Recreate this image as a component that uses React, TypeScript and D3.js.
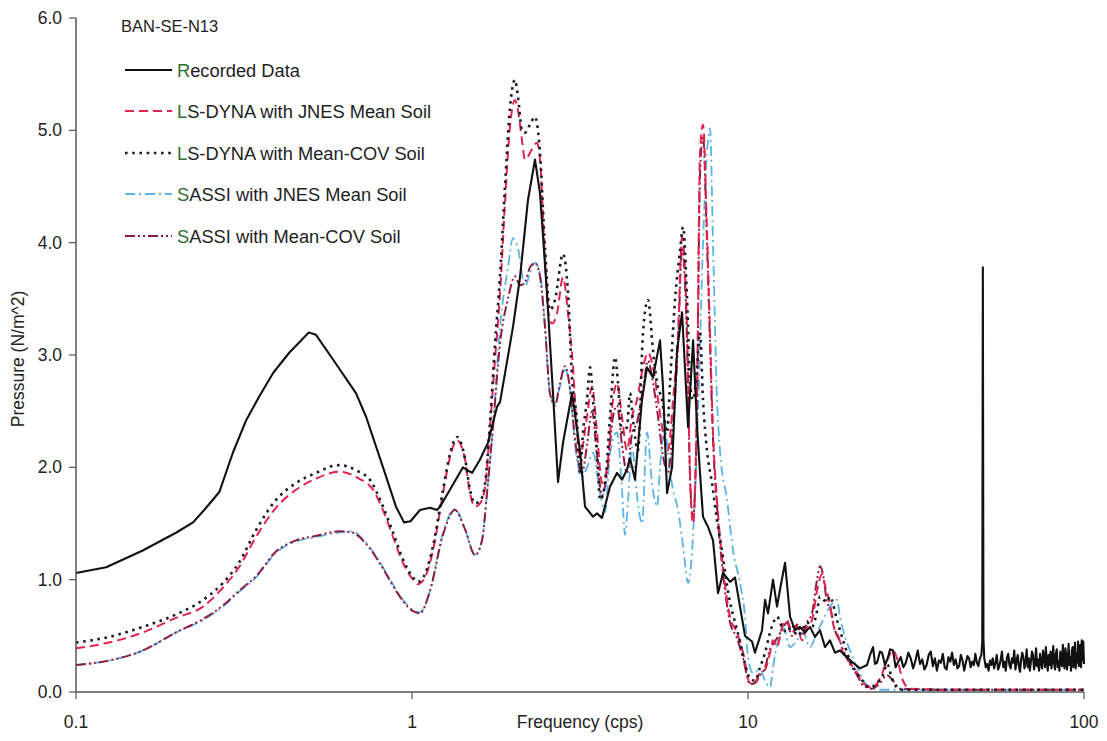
import React from "react";
import * as d3 from "d3";

type P = [number, number];

const recorded: P[] = [
  [0.1, 1.06], [0.123, 1.11], [0.158, 1.26], [0.199, 1.42], [0.223, 1.51], [0.244, 1.64], [0.267, 1.78],
  [0.293, 2.13], [0.321, 2.42], [0.351, 2.63], [0.386, 2.84], [0.431, 3.02], [0.493, 3.2], [0.518, 3.18],
  [0.582, 2.96], [0.681, 2.66], [0.73, 2.45], [0.82, 2.0], [0.896, 1.65], [0.947, 1.51], [0.99, 1.52],
  [1.056, 1.62], [1.131, 1.64], [1.187, 1.62], [1.212, 1.65], [1.297, 1.8], [1.418, 2.0], [1.509, 1.95],
  [1.594, 2.07], [1.684, 2.22], [1.791, 2.54], [1.828, 2.58], [1.998, 3.25], [2.096, 3.69], [2.214, 4.38],
  [2.323, 4.74], [2.404, 4.44], [2.522, 3.55], [2.628, 2.66], [2.72, 1.87], [2.815, 2.22], [2.994, 2.66],
  [3.162, 2.15], [3.273, 1.65], [3.458, 1.56], [3.553, 1.59], [3.677, 1.55], [3.885, 1.83], [4.075, 1.95],
  [4.217, 1.89], [4.364, 1.98], [4.455, 2.08], [4.61, 1.89], [4.836, 2.6], [5.005, 2.89], [5.216, 2.8],
  [5.472, 3.13], [5.585, 2.72], [5.742, 1.77], [5.942, 2.0], [6.149, 3.04], [6.364, 3.38], [6.632, 2.36],
  [6.864, 3.13], [7.055, 2.36], [7.197, 1.95], [7.347, 1.56], [7.603, 1.47], [7.868, 1.35], [8.142, 0.88],
  [8.426, 1.06], [8.842, 0.98], [9.148, 1.02], [9.467, 0.76], [9.797, 0.5], [10.28, 0.45], [10.49, 0.35],
  [11.01, 0.55], [11.24, 0.82], [11.47, 0.7], [11.87, 1.0], [12.2, 0.76], [12.45, 0.91], [12.89, 1.15],
  [13.34, 0.67], [13.8, 0.55], [14.28, 0.58], [14.78, 0.53], [15.29, 0.58], [15.83, 0.49], [16.38, 0.55],
  [16.95, 0.4], [17.54, 0.46], [18.15, 0.35], [18.78, 0.37], [19.71, 0.31], [20.54, 0.26], [21.54, 0.21],
  [22.61, 0.24], [23.08, 0.33], [23.56, 0.4], [23.88, 0.25], [24.21, 0.26], [24.71, 0.36], [25.06, 0.35],
  [25.58, 0.24], [26.11, 0.31], [26.47, 0.38], [27.01, 0.37], [27.5, 0.22],
  [28, 0.27], [28.5, 0.31], [29, 0.22], [29.5, 0.26], [30, 0.35], [30.5, 0.3], [31, 0.21], [31.5, 0.28],
  [32, 0.37], [32.5, 0.25], [33, 0.29], [33.5, 0.2], [34, 0.24], [34.5, 0.33], [35, 0.36], [35.5, 0.23],
  [36, 0.3], [36.5, 0.19], [37, 0.28], [37.5, 0.26], [38, 0.34], [38.5, 0.22], [39, 0.2], [39.5, 0.31],
  [40, 0.27], [40.5, 0.35], [41, 0.24], [41.5, 0.29], [42, 0.21], [42.5, 0.23], [43, 0.33], [43.5, 0.28],
  [44, 0.19], [44.5, 0.26], [45, 0.32], [45.5, 0.3], [46, 0.22], [46.5, 0.27], [47, 0.24], [47.5, 0.34],
  [48, 0.26], [48.5, 0.23], [49, 0.3], [49.5, 0.33], [49.8, 0.45], [50, 3.78], [50.2, 0.47], [50.5, 0.3],
  [51, 0.22], [51.5, 0.25], [52, 0.19], [52.5, 0.28], [53, 0.24], [53.5, 0.3], [54, 0.21], [54.5, 0.26],
  [55, 0.33], [55.5, 0.2], [56, 0.23], [56.5, 0.29], [57, 0.36], [57.5, 0.22], [58, 0.27], [58.5, 0.19],
  [59, 0.31], [59.5, 0.34], [60, 0.24], [60.5, 0.21], [61, 0.3], [61.5, 0.26], [62, 0.37], [62.5, 0.2],
  [63, 0.28], [63.5, 0.33], [64, 0.23], [64.5, 0.18], [65, 0.29], [65.5, 0.35], [66, 0.31], [66.5, 0.21],
  [67, 0.26], [67.5, 0.38], [68, 0.22], [68.5, 0.3], [69, 0.19], [69.5, 0.27], [70, 0.36], [70.5, 0.33],
  [71, 0.2], [71.5, 0.25], [72, 0.39], [72.5, 0.23], [73, 0.29], [73.5, 0.19], [74, 0.34], [74.5, 0.26],
  [75, 0.21], [75.5, 0.37], [76, 0.31], [76.5, 0.22], [77, 0.4], [77.5, 0.27], [78, 0.19], [78.5, 0.33],
  [79, 0.24], [79.5, 0.36], [80, 0.21], [80.5, 0.29], [81, 0.41], [81.5, 0.25], [82, 0.2], [82.5, 0.34],
  [83, 0.38], [83.5, 0.22], [84, 0.27], [84.5, 0.19], [85, 0.36], [85.5, 0.3], [86, 0.23], [86.5, 0.42],
  [87, 0.26], [87.5, 0.21], [88, 0.39], [88.5, 0.33], [89, 0.2], [89.5, 0.28], [90, 0.43], [90.5, 0.24],
  [91, 0.31], [91.5, 0.19], [92, 0.37], [92.5, 0.4], [93, 0.22], [93.5, 0.29], [94, 0.44], [94.5, 0.21],
  [95, 0.34], [95.5, 0.26], [96, 0.45], [96.5, 0.23], [97, 0.38], [97.5, 0.42], [98, 0.22], [98.5, 0.46],
  [99, 0.28], [99.5, 0.45], [100, 0.25],
];

const lsDynaJnes: P[] = [
  [0.1, 0.39], [0.1254, 0.44], [0.1582, 0.53], [0.1984, 0.66], [0.2388, 0.76], [0.2738, 0.93], [0.3055, 1.11],
  [0.3433, 1.38], [0.3937, 1.64], [0.4517, 1.8], [0.5179, 1.9], [0.6064, 1.96], [0.6955, 1.9], [0.7655, 1.8],
  [0.8198, 1.62], [0.878, 1.38], [0.9402, 1.15], [1.007, 1.0], [1.042, 0.96], [1.093, 1.02], [1.155, 1.26],
  [1.237, 1.77], [1.297, 2.09], [1.361, 2.24], [1.438, 2.07], [1.488, 1.77], [1.54, 1.65], [1.594, 1.68],
  [1.649, 1.82], [1.707, 2.36], [1.766, 2.96], [1.828, 3.55], [1.891, 4.35], [1.957, 5.03], [2.025, 5.27],
  [2.067, 5.18], [2.125, 4.91], [2.169, 4.74], [2.275, 4.83], [2.355, 4.89], [2.404, 4.74], [2.488, 3.85],
  [2.539, 3.4], [2.61, 3.28], [2.701, 3.37], [2.815, 3.69], [2.913, 3.37], [3.015, 2.89], [3.099, 2.31],
  [3.162, 2.1], [3.318, 2.45], [3.434, 2.72], [3.553, 2.31], [3.677, 1.86], [3.808, 2.0], [3.965, 2.6],
  [4.075, 2.75], [4.217, 2.45], [4.364, 2.15], [4.516, 2.45], [4.673, 2.6], [4.87, 2.89], [5.04, 3.02],
  [5.216, 2.89], [5.399, 2.6], [5.585, 2.31], [5.781, 2.15], [5.983, 2.6], [6.192, 3.2], [6.364, 4.05],
  [6.587, 3.2], [6.724, 1.9], [6.864, 1.5], [7.055, 2.7], [7.197, 4.8], [7.347, 5.05], [7.551, 4.1],
  [7.708, 3.2], [7.868, 2.31], [8.087, 1.71], [8.426, 1.11], [8.842, 0.67], [9.274, 0.53], [9.665, 0.35],
  [10.14, 0.08], [10.49, 0.09], [10.86, 0.17], [11.24, 0.2], [11.63, 0.35], [11.87, 0.46], [12.2, 0.4],
  [12.63, 0.58], [13.07, 0.64], [13.52, 0.53], [13.99, 0.58], [14.48, 0.46], [14.98, 0.58], [15.5, 0.64],
  [16.05, 0.9], [16.61, 1.05], [16.95, 0.95], [17.54, 0.78], [18.0, 0.58], [18.6, 0.49], [19.18, 0.35],
  [20.12, 0.26], [21.12, 0.17], [21.98, 0.08], [23.39, 0.04], [24.71, 0.12], [25.93, 0.28], [27.01, 0.37],
  [27.76, 0.3], [28.93, 0.1], [30.35, 0.03], [40, 0.02], [60, 0.02], [100, 0.02],
];

const lsDynaCov: P[] = [
  [0.1, 0.44], [0.1254, 0.49], [0.1582, 0.58], [0.1984, 0.69], [0.2388, 0.82], [0.2738, 0.97], [0.3055, 1.15],
  [0.3433, 1.44], [0.3937, 1.71], [0.4517, 1.86], [0.5179, 1.95], [0.6064, 2.02], [0.6955, 1.96], [0.7447, 1.9],
  [0.8198, 1.65], [0.878, 1.42], [0.9402, 1.18], [1.007, 1.02], [1.042, 0.98], [1.093, 1.05], [1.155, 1.3],
  [1.237, 1.8], [1.297, 2.12], [1.361, 2.27], [1.438, 2.08], [1.488, 1.8], [1.54, 1.68], [1.594, 1.7],
  [1.649, 1.85], [1.707, 2.4], [1.766, 3.1], [1.828, 3.7], [1.891, 4.5], [1.957, 5.2], [2.025, 5.45],
  [2.067, 5.3], [2.125, 5.0], [2.169, 4.98], [2.244, 5.05], [2.323, 5.12], [2.404, 4.8], [2.488, 3.95],
  [2.574, 3.4], [2.664, 3.49], [2.815, 3.9], [2.913, 3.55], [2.994, 2.8], [3.099, 2.4], [3.162, 1.95],
  [3.228, 2.31], [3.318, 2.6], [3.388, 2.89], [3.458, 2.6], [3.553, 2.15], [3.628, 1.71], [3.756, 1.86],
  [3.885, 2.45], [4.02, 2.98], [4.103, 2.75], [4.217, 2.31], [4.364, 2.36], [4.455, 2.66], [4.547, 2.42],
  [4.705, 2.15], [4.87, 3.2], [5.04, 3.49], [5.216, 3.04], [5.362, 2.75], [5.548, 2.6], [5.742, 2.31],
  [5.861, 2.75], [6.066, 3.49], [6.278, 3.93], [6.408, 4.14], [6.587, 3.49], [6.724, 2.75], [6.864, 2.6],
  [7.055, 2.89], [7.197, 3.2], [7.347, 2.6], [7.551, 2.15], [7.814, 1.86], [8.087, 1.53], [8.426, 1.2],
  [8.66, 0.95], [8.842, 0.8], [9.148, 0.62], [9.467, 0.45], [9.797, 0.25], [10.14, 0.12], [10.49, 0.1],
  [10.86, 0.22], [11.24, 0.35], [11.63, 0.53], [11.87, 0.61], [12.2, 0.67], [12.63, 0.58], [13.07, 0.53],
  [13.52, 0.6], [13.99, 0.5], [14.48, 0.55], [14.98, 0.62], [15.5, 0.58], [16.05, 0.72], [16.38, 0.85],
  [16.78, 0.82], [17.19, 0.8], [17.54, 0.85], [18.4, 0.64], [19.18, 0.46], [20.12, 0.28], [21.54, 0.13],
  [23.08, 0.04], [24.21, 0.08], [25.22, 0.15], [25.93, 0.25], [26.83, 0.12], [27.76, 0.04], [28.93, 0.02],
  [40, 0.02], [60, 0.02], [100, 0.02],
];

const sassiJnes: P[] = [
  [0.1, 0.24], [0.1254, 0.28], [0.1582, 0.37], [0.1984, 0.53], [0.2388, 0.64], [0.2738, 0.76], [0.3055, 0.89],
  [0.3433, 1.02], [0.3937, 1.24], [0.4517, 1.34], [0.5179, 1.38], [0.6064, 1.42], [0.6629, 1.43], [0.7297, 1.33],
  [0.8198, 1.11], [0.8963, 0.91], [1.007, 0.73], [1.056, 0.71], [1.131, 0.9], [1.237, 1.42], [1.342, 1.63],
  [1.438, 1.45], [1.54, 1.22], [1.616, 1.35], [1.672, 1.77], [1.742, 2.36], [1.828, 3.25], [1.93, 3.78],
  [1.998, 4.04], [2.067, 3.95], [2.169, 3.61], [2.244, 3.73], [2.323, 3.82], [2.404, 3.73], [2.488, 3.25],
  [2.574, 2.66], [2.664, 2.57], [2.757, 2.72], [2.854, 2.87], [2.953, 2.69], [3.056, 2.2], [3.206, 1.91],
  [3.318, 2.0], [3.458, 2.13], [3.628, 1.77], [3.756, 1.6], [3.885, 2.13], [4.075, 2.31], [4.217, 1.8],
  [4.304, 1.4], [4.394, 1.7], [4.516, 2.18], [4.673, 1.75], [4.836, 1.5], [5.005, 2.31], [5.181, 1.86],
  [5.362, 1.65], [5.472, 2.0], [5.662, 2.4], [5.781, 2.1], [5.983, 1.8], [6.192, 1.62], [6.408, 1.3],
  [6.632, 0.97], [6.864, 1.4], [7.104, 2.5], [7.347, 4.0], [7.551, 4.8], [7.708, 5.02], [7.868, 4.0],
  [8.087, 2.6], [8.254, 2.15], [8.66, 1.71], [9.025, 1.26], [9.467, 0.97], [9.797, 0.67], [10.0, 0.31],
  [10.35, 0.17], [10.86, 0.2], [11.24, 0.1], [11.63, 0.04], [11.87, 0.22], [12.28, 0.46], [12.72, 0.58],
  [13.34, 0.4], [13.99, 0.46], [14.58, 0.53], [15.29, 0.4], [16.05, 0.53], [16.72, 0.64], [17.54, 0.76],
  [18.4, 0.82], [18.78, 0.67], [19.45, 0.49], [20.12, 0.37], [21.12, 0.22], [21.98, 0.11], [23.08, 0.04],
  [24.71, 0.02], [40, 0.02], [60, 0.02], [100, 0.02],
];

const sassiCov: P[] = [
  [0.1, 0.24], [0.1254, 0.28], [0.1582, 0.37], [0.1984, 0.53], [0.2388, 0.65], [0.2738, 0.77], [0.3055, 0.9],
  [0.3433, 1.03], [0.3937, 1.25], [0.4517, 1.35], [0.5179, 1.39], [0.6064, 1.43], [0.6629, 1.42], [0.7297, 1.32],
  [0.8198, 1.1], [0.8963, 0.9], [1.007, 0.72], [1.056, 0.7], [1.131, 0.9], [1.237, 1.4], [1.342, 1.62],
  [1.438, 1.45], [1.54, 1.22], [1.616, 1.35], [1.672, 1.77], [1.742, 2.36], [1.828, 3.1], [1.93, 3.5],
  [2.025, 3.7], [2.096, 3.62], [2.169, 3.65], [2.244, 3.78], [2.323, 3.82], [2.404, 3.7], [2.488, 3.25],
  [2.574, 2.66], [2.664, 2.55], [2.757, 2.75], [2.854, 2.9], [2.953, 2.7], [3.056, 2.25], [3.206, 1.95],
  [3.318, 2.2], [3.434, 2.5], [3.553, 2.1], [3.677, 1.75], [3.808, 1.95], [3.965, 2.45], [4.075, 2.55],
  [4.217, 2.2], [4.364, 1.95], [4.516, 2.3], [4.673, 2.4], [4.87, 2.7], [5.04, 2.95], [5.216, 2.75],
  [5.399, 2.45], [5.585, 2.1], [5.781, 1.95], [5.983, 2.4], [6.192, 3.1], [6.364, 3.95], [6.587, 3.1],
  [6.724, 1.9], [6.864, 1.55], [7.055, 2.6], [7.197, 4.6], [7.347, 4.95], [7.551, 4.0], [7.708, 3.1],
  [7.868, 2.25], [8.087, 1.65], [8.426, 1.05], [8.842, 0.62], [9.274, 0.48], [9.665, 0.3], [10.14, 0.07],
  [10.49, 0.08], [10.86, 0.15], [11.24, 0.22], [11.63, 0.38], [12.03, 0.45], [12.63, 0.55], [13.07, 0.62],
  [13.52, 0.5], [13.99, 0.6], [14.48, 0.5], [14.98, 0.62], [15.5, 0.7], [16.05, 1.0], [16.38, 1.12],
  [16.78, 1.02], [17.19, 0.8], [17.54, 0.75], [18.15, 0.55], [18.78, 0.45], [19.45, 0.33], [20.12, 0.25],
  [21.12, 0.15], [21.98, 0.06], [23.39, 0.03], [24.71, 0.08], [25.93, 0.15], [27.01, 0.1], [28.34, 0.03],
  [40, 0.02], [60, 0.02], [100, 0.02],
];

const xTicks = [0.1, 1, 10, 100];
const xTickLabels = ["0.1", "1", "10", "100"];
const yTicks = [0, 1, 2, 3, 4, 5, 6];
const yTickLabels = ["0.0", "1.0", "2.0", "3.0", "4.0", "5.0", "6.0"];

const title = "BAN-SE-N13";
const xTitle = "Frequency (cps)";
const yTitle = "Pressure (N/m^2)";

const seriesNames = [
  "Recorded Data",
  "LS-DYNA with JNES Mean Soil",
  "LS-DYNA with Mean-COV Soil",
  "SASSI with JNES Mean Soil",
  "SASSI with Mean-COV Soil",
];

const FONT = "'Liberation Sans', Arial, Helvetica, sans-serif";

const styles = [
  { data: recorded, color: "#111111", dash: "", width: 2.1, curve: d3.curveLinear },
  { data: lsDynaJnes, color: "#e3234e", dash: "9,5", width: 2, curve: d3.curveMonotoneX },
  { data: lsDynaCov, color: "#1b1b2b", dash: "2.6,4.6", width: 2.6, curve: d3.curveMonotoneX },
  { data: sassiJnes, color: "#5cb3e6", dash: "10,4,2,4", width: 1.8, curve: d3.curveMonotoneX },
  { data: sassiCov, color: "#8c1c42", dash: "10,3,2,3,2,3", width: 2, curve: d3.curveMonotoneX },
];

export default function App() {
  const W = 1107;
  const H = 741;
  const x = d3.scaleLog().domain([0.1, 100]).range([76, 1084]);
  const y = d3.scaleLinear().domain([0, 6]).range([692, 18]);

  const drawOrder = [3, 4, 1, 2, 0];
  const legendY = [70, 111, 153, 194, 236];

  return (
    <svg
      width={W}
      height={H}
      style={{ position: "absolute", left: 0, top: 0, background: "#ffffff" }}
      fontFamily={FONT}
    >
      <rect x={0} y={0} width={W} height={H} fill="#ffffff" />
      {drawOrder.map((i) => {
        const s = styles[i];
        const line = d3
          .line<P>()
          .x((d) => x(d[0]))
          .y((d) => y(d[1]))
          .curve(s.curve);
        return (
          <path
            key={i}
            d={line(s.data) || ""}
            fill="none"
            stroke={s.color}
            strokeWidth={s.width}
            strokeDasharray={s.dash || undefined}
            strokeLinejoin="round"
          />
        );
      })}

      <line x1={x(0.1)} x2={x(0.1)} y1={y(6)} y2={y(0)} stroke="#555" strokeWidth={1.5} />
      <line x1={x(0.1)} x2={x(100)} y1={y(0)} y2={y(0)} stroke="#555" strokeWidth={1.5} />
      {yTicks.map((t, i) => (
        <g key={"y" + t}>
          <line x1={x(0.1) - 7} x2={x(0.1)} y1={y(t)} y2={y(t)} stroke="#555" strokeWidth={1.2} />
          <text x={62} y={y(t) + 6} textAnchor="end" fontSize={17.5} fill="#222">
            {yTickLabels[i]}
          </text>
        </g>
      ))}
      {xTicks.map((t, i) => (
        <g key={"x" + t}>
          <line x1={x(t)} x2={x(t)} y1={y(0)} y2={y(0) + 7} stroke="#555" strokeWidth={1.2} />
          <text x={x(t)} y={728} textAnchor="middle" fontSize={17.5} fill="#222">
            {xTickLabels[i]}
          </text>
        </g>
      ))}
      <text x={580} y={728} textAnchor="middle" fontSize={17.5} fill="#222">
        {xTitle}
      </text>
      <text transform={`translate(24,359) rotate(-90)`} textAnchor="middle" fontSize={17.5} fill="#222">
        {yTitle}
      </text>

      <text x={121} y={32} fontSize={16.5} fill="#222">
        {title}
      </text>
      {seriesNames.map((name, i) => {
        const s = styles[i];
        const ly = legendY[i];
        return (
          <g key={name}>
            <line
              x1={125}
              x2={172}
              y1={ly}
              y2={ly}
              stroke={s.color}
              strokeWidth={s.width}
              strokeDasharray={s.dash || undefined}
            />
            <text x={177} y={ly + 6.5} fontSize={18.3} fill="#1e1e1e">
              <tspan fill="#2e6e34">{name.charAt(0)}</tspan>
              {name.slice(1)}
            </text>
          </g>
        );
      })}
    </svg>
  );
}
